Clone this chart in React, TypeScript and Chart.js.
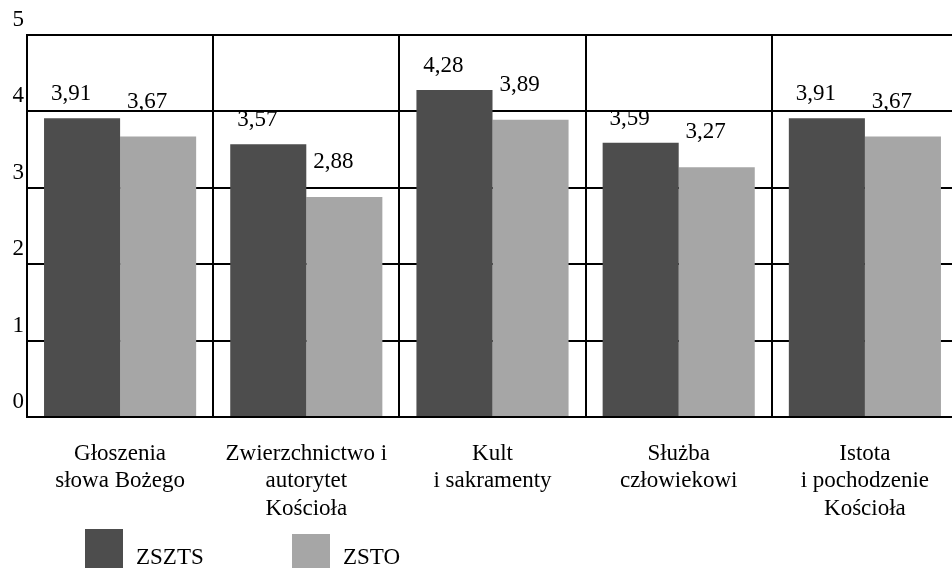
import React, { useEffect, useRef } from "react";
import { Chart, registerables } from "chart.js";

Chart.register(...registerables);

const categories: string[][] = [
  ["Głoszenia", "słowa Bożego"],
  ["Zwierzchnictwo i", "autorytet", "Kościoła"],
  ["Kult", "i sakramenty"],
  ["Służba", "człowiekowi"],
  ["Istota", "i pochodzenie", "Kościoła"],
];
const seriesNames = ["ZSZTS", "ZSTO"];
const zsztsValues = [3.91, 3.57, 4.28, 3.59, 3.91];
const zstoValues = [3.67, 2.88, 3.89, 3.27, 3.67];
const yTicks = [0, 1, 2, 3, 4, 5];

const DARK = "#4d4d4d";
const LIGHT = "#a6a6a6";
const FONT = "'Liberation Serif', 'Times New Roman', Times, 'DejaVu Serif', serif";
const FS = 23;

const labelLift = [24, 35];

const labelsPlugin = {
  id: "valueLabels",
  afterDatasetsDraw(chart: any) {
    const ctx = chart.ctx;
    ctx.save();
    ctx.font = `${FS}px ${FONT}`;
    ctx.fillStyle = "#000";
    ctx.textAlign = "center";
    ctx.textBaseline = "middle";
    chart.data.datasets.forEach((ds: any, di: number) => {
      const meta = chart.getDatasetMeta(di);
      meta.data.forEach((bar: any, i: number) => {
        const v = ds.data[i] as number;
        const txt = v.toFixed(2).replace(".", ",");
        ctx.fillText(txt, bar.x - 11, bar.y - labelLift[di]);
      });
    });
    ctx.restore();
  },
};

const legendPlugin = {
  id: "customLegend",
  afterDraw(chart: any) {
    const ctx = chart.ctx;
    ctx.save();
    ctx.font = `${FS}px ${FONT}`;
    ctx.textBaseline = "middle";
    ctx.textAlign = "left";
    const items = [
      { x: 85, y: 529 },
      { x: 292, y: 534 },
    ];
    chart.data.datasets.forEach((ds: any, di: number) => {
      const p = items[di];
      ctx.fillStyle = ds.backgroundColor;
      ctx.fillRect(p.x, p.y, 38, 50);
      ctx.fillStyle = "#000";
      ctx.fillText(ds.label, p.x + 51, 558);
    });
    ctx.restore();
  },
};

export default function App() {
  const ref = useRef<HTMLCanvasElement>(null);
  useEffect(() => {
    if (!ref.current) return;
    const chart = new Chart(ref.current, {
      type: "bar",
      data: {
        labels: categories,
        datasets: [
          { label: seriesNames[0], data: zsztsValues, backgroundColor: DARK, borderWidth: 0 },
          { label: seriesNames[1], data: zstoValues, backgroundColor: LIGHT, borderWidth: 0 },
        ],
      },
      options: {
        responsive: false,
        animation: false,
        layout: { padding: { left: 0, top: 35, right: 10, bottom: 0 } },
        datasets: { bar: { categoryPercentage: 0.817, barPercentage: 1 } },
        plugins: { legend: { display: false }, tooltip: { enabled: false } },
        scales: {
          x: {
            grid: { color: "#000", lineWidth: 2, drawTicks: false, offset: true },
            border: { color: "#000", width: 2 },
            ticks: {
              color: "#000",
              font: { family: FONT, size: FS, lineHeight: 1.2 },
              padding: 23,
              maxRotation: 0,
              autoSkip: false,
            },
            afterFit: (s: any) => {
              s.height = 163;
            },
          },
          y: {
            min: 0,
            max: 5,
            afterBuildTicks: (s: any) => {
              s.ticks = yTicks.map((v) => ({ value: v }));
            },
            grid: { color: "#000", lineWidth: 2, drawTicks: false },
            border: { color: "#000", width: 2 },
            ticks: {
              color: "#000",
              font: { family: FONT, size: FS },
              padding: 3,
              labelOffset: -15,
              callback: (v: any) => String(v),
            },
            afterFit: (s: any) => {
              s.width = 27;
            },
          },
        },
      },
      plugins: [labelsPlugin, legendPlugin],
    });
    return () => chart.destroy();
  }, []);
  return (
    <div style={{ position: "fixed", left: 0, top: 0, width: 952, height: 568, overflow: "hidden", background: "#fff" }}>
      <canvas ref={ref} width={968} height={580} />
    </div>
  );
}
